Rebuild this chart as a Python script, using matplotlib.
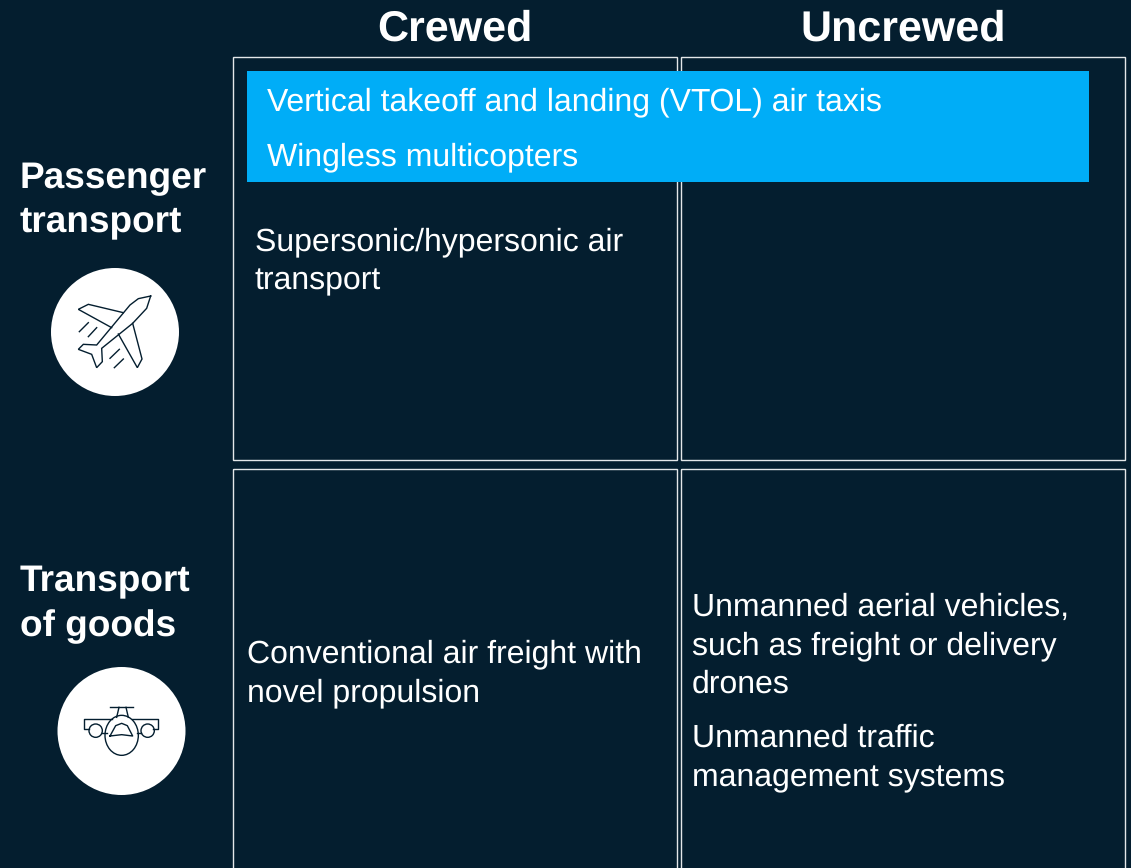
import matplotlib
matplotlib.use("Agg")
import matplotlib.pyplot as plt
from matplotlib.patches import Rectangle, Circle, Ellipse

BG = "#041E2F"
BLUE = "#00ADF7"
plt.rcParams['font.family'] = ['Liberation Sans', 'DejaVu Sans']
plt.rcParams['text.hinting'] = 'none'
plt.rcParams['text.hinting_factor'] = 1

col_headers = ["Crewed", "Uncrewed"]
row_headers = ["Passenger\ntransport", "Transport\nof goods"]
banner_lines = ["Vertical takeoff and landing (VTOL) air taxis", "Wingless multicopters"]
cell_passenger_crewed = "Supersonic/hypersonic air\ntransport"
cell_goods_crewed = "Conventional air freight with\nnovel propulsion"
cell_goods_uncrewed_1 = "Unmanned aerial vehicles,\nsuch as freight or delivery\ndrones"
cell_goods_uncrewed_2 = "Unmanned traffic\nmanagement systems"

fig = plt.figure(figsize=(11.31, 8.68), dpi=100, facecolor=BG)
ax = fig.add_axes([0, 0, 1, 1])
ax.set_xlim(0, 1131)
ax.set_ylim(868, 0)
ax.axis("off")

# grid cells
for x0, x1, y0, y1 in [(233, 677, 57, 460), (681, 1125, 57, 460),
                       (233, 677, 469, 900), (681, 1125, 469, 900)]:
    ax.add_patch(Rectangle((x0, y0), x1 - x0, y1 - y0, fill=False, ec="#E4E7E9", lw=1.0, zorder=1))

# banner
ax.add_patch(Rectangle((247, 71), 842, 111, fc=BLUE, ec="none", zorder=2))

W = "white"
def txt(x, y, s, size, bold=False):
    ax.text(x, y, s, color=W, fontsize=size, fontweight="bold" if bold else "normal",
            va="baseline", ha="left", linespacing=1.0, zorder=3)

def multi(x, y, s, size, step, bold=False):
    for i, line in enumerate(s.split("\n")):
        txt(x, y + i * step, line, size, bold)

# column headers
ax.text(455, 41, col_headers[0], color=W, fontsize=31, fontweight="bold", ha="center", va="baseline")
ax.text(903, 41, col_headers[1], color=W, fontsize=31, fontweight="bold", ha="center", va="baseline")

# row headers
multi(19.5, 188, row_headers[0], 26.7, 43.5, True)
multi(20, 591, row_headers[1], 26.7, 45, True)

# cell text
T = 22.85
txt(267, 110, banner_lines[0], T)
txt(267, 165, banner_lines[1], T)
multi(255, 250, cell_passenger_crewed, T, 39.5)
multi(247, 662, cell_goods_crewed, T, 39)
multi(692, 616, cell_goods_uncrewed_1, T, 38.2)
multi(692, 747, cell_goods_uncrewed_2, T, 39)

# icons
ax.add_patch(Circle((115, 332), 64, fc=W, ec="none", zorder=2))
ax.add_patch(Circle((121.5, 731), 64, fc=W, ec="none", zorder=2))

plane_paths = [
    [(250,158),(145,133),(115,148),(215,203)],
    [(332,108),(295,116),(270,135),(170,255),(130,253),(115,268),(155,283),(170,323),(187,305),(185,265),
     (278,190),(320,145),(332,108)],
    [(235,222),(292,323),(306,297),(278,190)],
    [(118,215),(145,188)], [(145,230),(170,203)], [(210,295),(238,268)], [(223,323),(250,297)],
]
for p in plane_paths:
    ax.plot([40 + a / 3 for a, b in p], [260 + b / 3 for a, b in p], color=BG, lw=1.0, zorder=3,
            solid_joinstyle="miter")

cargo_paths = [
    [(180,142),(250,142)],
    [(207,142),(200,172)], [(228,142),(235,172)],
    [(185,178),(103,178),(103,208),(118,208)],
    [(245,178),(325,178),(325,208),(310,208)],
    [(157,220),(170,220)], [(260,220),(273,220)],
    [(180,228),(197,197),(215,190),(232,197),(248,228),(215,224),(180,228)],
]
for p in cargo_paths:
    ax.plot([50 + a / 3 for a, b in p], [660 + b / 3 for a, b in p], color=BG, lw=1.0, zorder=3)
for cx, cy, w, h in [(137,212,40,40), (293,212,40,40), (215,226,100,120)]:
    ax.add_patch(Ellipse((50 + cx / 3, 660 + cy / 3), w / 3, h / 3, fill=False, ec=BG, lw=1.0, zorder=3))

fig.savefig("out.png", dpi=100, facecolor=BG)
